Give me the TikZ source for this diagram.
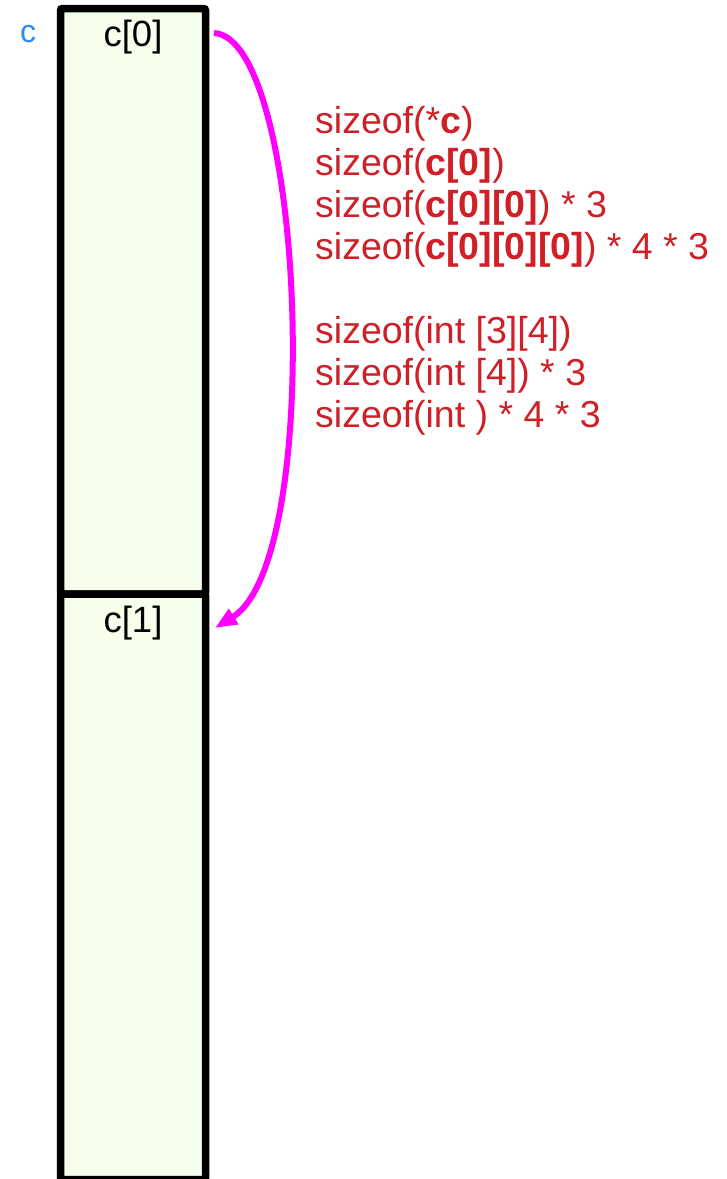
\documentclass[tikz,border=0pt]{standalone}
\usepackage{fontspec}
\setmainfont{Liberation Sans}
\usetikzlibrary{positioning,arrows.meta}
\definecolor{cellfill}{RGB}{245,255,235}
\definecolor{sizered}{RGB}{206,32,38}
\definecolor{varblue}{RGB}{42,140,240}
\definecolor{jump}{RGB}{255,0,255}

\tikzset{
  cell/.style={draw,line width=7.5pt,fill=cellfill,rounded corners=2pt,
    minimum width=145pt,inner sep=0pt,outer sep=0pt},
  celltext/.style={anchor=base,font=\fontsize{36.5}{40}\selectfont},
}

\begin{document}
\begin{tikzpicture}[x=1pt,y=-1pt]
\useasboundingbox (0,0) rectangle (727,1179);
\node[cell,minimum height=585.5pt,anchor=north] (cell0) at (133,8.5) {};
\node[cell,minimum height=585.5pt,below=0pt of cell0] (cell1) {};
\node[celltext] (c0) at ([yshift=-38pt]cell0.north) {c[0]};
\node[celltext] (c1) at ([yshift=-38pt]cell1.north) {c[1]};
\node[anchor=base,varblue,font=\fontsize{32}{36}\selectfont] (cvar) at (28,42) {c};
% base anchor = last line
\node[anchor=base west,align=left,inner sep=0pt,sizered,
  font=\fontsize{37.5}{42}\selectfont] (sizes) at (315,427) {%
  sizeof(*\textbf{c})\\
  sizeof(\textbf{c[0]})\\
  sizeof(\textbf{c[0][0]}) * 3\\
  sizeof(\textbf{c[0][0][0]}) * 4 * 3\\[42pt]
  sizeof(int [3][4])\\
  sizeof(int [4]) * 3\\
  sizeof(int ) * 4 * 3};
\coordinate (from) at (214,33);
\coordinate (to) at (215,628);
\draw[jump,line width=6pt,-{Triangle[length=22pt,width=17pt]}]
  (from) .. controls (305,38) and (325,560) .. (to);
\end{tikzpicture}
\end{document}
